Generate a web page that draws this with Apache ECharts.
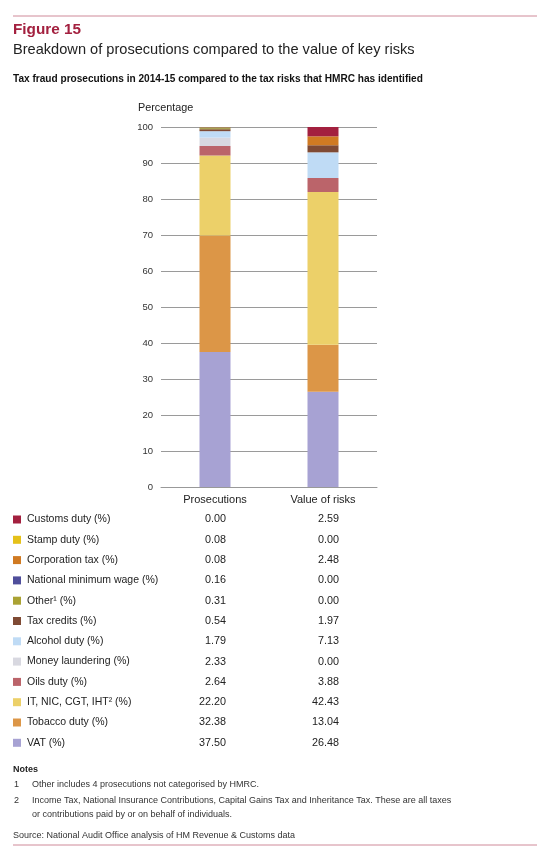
<!DOCTYPE html>
<html>
<head>
<meta charset="utf-8">
<script src="https://cdn.jsdelivr.net/npm/echarts@6/dist/echarts.min.js"></script>
<style>
html,body{margin:0;padding:0;background:#fff;}
#c{width:550px;height:852px;}
</style>
</head>
<body>
<div id="c"></div>
<script>
// Data (legend order, top to bottom)
const categories = ['Prosecutions', 'Value of risks'];
const seriesNames = ['Customs duty (%)','Stamp duty (%)','Corporation tax (%)','National minimum wage (%)','Other\u00b9 (%)','Tax credits (%)','Alcohol duty (%)','Money laundering (%)','Oils duty (%)','IT, NIC, CGT, IHT\u00b2 (%)','Tobacco duty (%)','VAT (%)'];
const prosecutions = [0.00,0.08,0.08,0.16,0.31,0.54,1.79,2.33,2.64,22.20,32.38,37.50];
const valueOfRisks = [2.59,0.00,2.48,0.00,0.00,1.97,7.13,0.00,3.88,42.43,13.04,26.48];
const colors = ['#a3203f','#e5c11a','#d07a22','#4f4e9b','#aaa233','#7f4a34','#bfdbf5','#d8d8e0','#bb646a','#ecd069','#dc9647','#a7a2d3'];
const yTicks = [0,10,20,30,40,50,60,70,80,90,100];

const FONT = '"Liberation Sans", Arial, Helvetica, sans-serif';
const chart = echarts.init(document.getElementById('c'), null, {renderer:'canvas'});

// stacked series, bottom first
const series = [];
for (let i = seriesNames.length - 1; i >= 0; i--) {
  series.push({
    name: seriesNames[i],
    type: 'bar',
    stack: 'total',
    barWidth: 31,
    itemStyle: {color: colors[i]},
    data: [prosecutions[i], valueOfRisks[i]]
  });
}

// table graphics
const graphics = [];
const rowY0 = 519.5, rowStep = 20.3;
seriesNames.forEach((n, i) => {
  const y = rowY0 + i * rowStep;
  graphics.push({type:'rect', shape:{x:13, y:y-4, width:8, height:8}, style:{fill:colors[i]}});
  graphics.push({type:'text', x:27, y:y, style:{text:n, font:'10.5px '+FONT, fill:'#222', textVerticalAlign:'middle', verticalAlign:'middle'}});
  graphics.push({type:'text', x:226, y:y, style:{text:prosecutions[i].toFixed(2), font:'10.8px '+FONT, fill:'#222', textAlign:'right', align:'right', verticalAlign:'middle', textVerticalAlign:'middle'}});
  graphics.push({type:'text', x:339, y:y, style:{text:valueOfRisks[i].toFixed(2), font:'10.8px '+FONT, fill:'#222', textAlign:'right', align:'right', verticalAlign:'middle', textVerticalAlign:'middle'}});
});

function txt(x, y, t, font, fill, extra) {
  return Object.assign({type:'text', x:x, y:y, style:Object.assign({text:t, font:font, fill:fill, verticalAlign:'middle', textVerticalAlign:'middle'}, extra||{})});
}
// header
graphics.push({type:'line', shape:{x1:13, y1:16, x2:537, y2:16}, style:{stroke:'#cf8a99', lineWidth:1}});
graphics.push(txt(13, 30, 'Figure 15', 'bold 15.3px '+FONT, '#a3203f'));
graphics.push(txt(13, 50, 'Breakdown of prosecutions compared to the value of key risks', '14.6px '+FONT, '#222'));
graphics.push(txt(13, 79, 'Tax fraud prosecutions in 2014-15 compared to the tax risks that HMRC has identified', 'bold 10.1px '+FONT, '#111'));
graphics.push(txt(138, 108, 'Percentage', '10.8px '+FONT, '#222'));
// notes
graphics.push(txt(13, 770, 'Notes', 'bold 9px '+FONT, '#222'));
graphics.push(txt(14, 785, '1', '9px '+FONT, '#333'));
graphics.push(txt(32, 785, 'Other includes 4 prosecutions not categorised by HMRC.', '9px '+FONT, '#333'));
graphics.push(txt(14, 801, '2', '9px '+FONT, '#333'));
graphics.push(txt(32, 801, 'Income Tax, National Insurance Contributions, Capital Gains Tax and Inheritance Tax. These are all taxes', '9px '+FONT, '#333'));
graphics.push(txt(32, 815, 'or contributions paid by or on behalf of individuals.', '9px '+FONT, '#333'));
graphics.push(txt(13, 836, 'Source: National Audit Office analysis of HM Revenue & Customs data', '9px '+FONT, '#333'));
graphics.push({type:'line', shape:{x1:13, y1:845, x2:537, y2:845}, style:{stroke:'#cf8a99', lineWidth:1}});

chart.setOption({
  animation: false,
  backgroundColor: '#fff',
  grid: {left:161, right:173, top:127, bottom:365, containLabel:false},
  xAxis: {
    type: 'category',
    data: categories,
    axisLine: {show:true, lineStyle:{color:'#999', width:1}},
    axisTick: {show:false},
    axisLabel: {color:'#222', fontSize:11, fontFamily:FONT, margin:7}
  },
  yAxis: {
    type: 'value',
    min: yTicks[0],
    max: yTicks[yTicks.length-1],
    interval: 10,
    axisLine: {show:false},
    axisTick: {show:false},
    axisLabel: {color:'#333', fontSize:9.5, fontFamily:FONT, margin:8},
    splitLine: {show:true, lineStyle:{color:'#9a9a9a', width:1}}
  },
  series: series,
  graphic: graphics
});
</script>
</body>
</html>
